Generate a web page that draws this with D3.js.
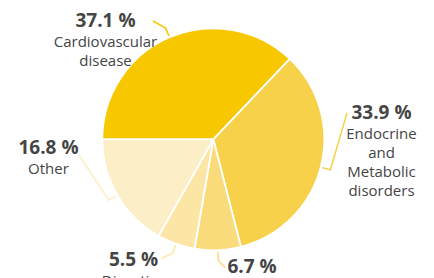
<!DOCTYPE html>
<html><head><meta charset="utf-8">
<script src="https://cdn.jsdelivr.net/npm/d3@7"></script>
<style>
html,body{margin:0;padding:0;background:#fff;overflow:hidden;}
svg{display:block;font-family:"Open Sans","Noto Sans",sans-serif;}
</style></head>
<body>
<svg id="chart" width="434" height="278"></svg>
<script>
const categories = ["Cardiovascular disease", "Endocrine and Metabolic disorders", "Respiratory disease", "Digestive disorders", "Other"];
const values = [37.1, 33.9, 6.7, 5.5, 16.8];
const colors = ["#F7C700", "#F8D14B", "#FADB7C", "#FCE6A5", "#FCEEC6"];
const labelLines = [["Cardiovascular", "disease"], ["Endocrine", "and", "Metabolic", "disorders"], ["Respiratory", "disease"], ["Digestive", "disorders"], ["Other"]];
// label anchor (center x, baseline of percentage)
const labelPos = [[105.5, 26.5], [381.5, 119], [252, 272.5], [133.5, 265.5], [48.5, 153.5]];
// leader-line end points near labels
const lineEnds = [[153, 21], [347, 113], [225, 267.5], [161.5, 258.5], [79, 155]];

const svg = d3.select("#chart");
const cx = 213.3, cy = 139.3, r = 111;
const data = categories.map((c, i) => ({c, v: values[i], i}));
const pie = d3.pie().value(d => d.v).sort(null).startAngle(-Math.PI / 2).endAngle(1.5 * Math.PI);
const arcs = pie(data);
const arc = d3.arc().innerRadius(0).outerRadius(r);
const g = svg.append("g").attr("transform", `translate(${cx},${cy})`);
g.selectAll("path.slice").data(arcs).join("path")
  .attr("class", "slice")
  .attr("d", arc)
  .attr("fill", d => colors[d.data.i])
  .attr("stroke", "#fff").attr("stroke-width", 1.8).attr("stroke-linejoin", "round");

// leader lines
arcs.forEach(a => {
  const m = (a.startAngle + a.endAngle) / 2;
  const p = rr => [cx + rr * Math.sin(m), cy - rr * Math.cos(m)];
  const s = p(r + 1.5), e = p(r + 10);
  const end = lineEnds[a.data.i];
  svg.append("polyline")
    .attr("points", [s, e, end].map(q => q.join(",")).join(" "))
    .attr("fill", "none")
    .attr("stroke", colors[a.data.i])
    .attr("stroke-width", 1.5);
});

// labels
data.forEach(d => {
  const [x, y] = labelPos[d.i];
  const t = svg.append("text").attr("text-anchor", "middle").attr("fill", "#454545");
  t.append("tspan").attr("x", x).attr("y", y)
    .attr("font-size", 19).attr("font-weight", "bold")
    .text(d3.format(".1f")(d.v) + " %");
  labelLines[d.i].forEach((ln, k) => {
    t.append("tspan").attr("x", x).attr("y", y + 20 + k * 19)
      .attr("font-size", 15).text(ln);
  });
});
</script>
</body></html>
